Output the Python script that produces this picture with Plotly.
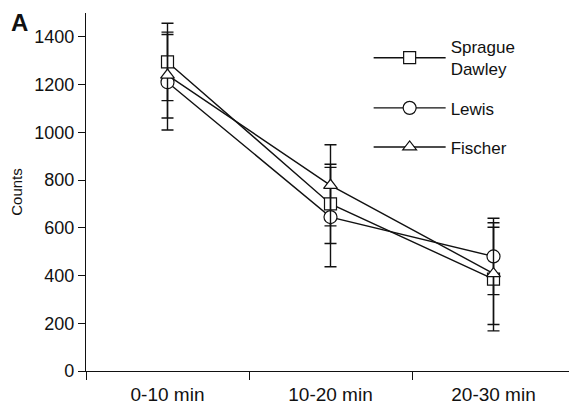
import plotly.graph_objects as go

categories = ["0-10 min", "10-20 min", "20-30 min"]
series_names = ["Sprague<br>Dawley", "Lewis", "Fischer"]
sd_values = [1295, 700, 385]
sd_err = [162, 166, 217]
lewis_values = [1210, 645, 480]
lewis_err = [200, 208, 160]
fischer_values = [1240, 778, 408]
fischer_err = [180, 170, 213]
y_ticks = [0, 200, 400, 600, 800, 1000, 1200, 1400]

symbols = ["square", "circle", "triangle-up"]
sizes = [12, 13, 12]
values = [sd_values, lewis_values, fischer_values]
errs = [sd_err, lewis_err, fischer_err]

fig = go.Figure()
for i, (name, vals, err, sym, sz) in enumerate(zip(series_names, values, errs, symbols, sizes)):
    fig.add_trace(go.Scatter(
        x=categories, y=vals, name=name, mode="lines+markers",
        legendgroup=f"g{i}",
        line=dict(color="#111", width=1.4),
        marker=dict(symbol=sym, size=sz, color="white",
                    line=dict(color="#111", width=1.2)),
        error_y=dict(type="data", array=err, visible=True,
                     color="#111", thickness=1.4, width=6),
    ))

# page body has an 8px default margin, so the figure is 8px smaller
fig.update_layout(
    width=569, height=398,
    margin=dict(l=78, r=2, t=5, b=35),
    paper_bgcolor="white", plot_bgcolor="white",
    font=dict(family="Liberation Sans, Arial, sans-serif", color="#111", size=17),
    showlegend=True,
    legend=dict(x=0.578, y=0.955, xanchor="left", yanchor="top",
                bgcolor="rgba(0,0,0,0)", font=dict(size=17),
                tracegroupgap=14, itemwidth=72),
)
fig.add_annotation(text="<b>A</b>", xref="paper", yref="paper", x=-0.157, y=1.018,
                   xanchor="left", yanchor="top", showarrow=False,
                   font=dict(size=24, color="#111"))

fig.update_xaxes(
    type="category", range=[-0.5, 2.5], tickson="boundaries", automargin=False,
    showline=True, linecolor="#111", linewidth=1.4,
    ticks="outside", ticklen=8, tickcolor="#111", tickwidth=1.2,
    showgrid=False, zeroline=False, tickfont=dict(size=19),
    ticklabelstandoff=6,
)
fig.update_yaxes(
    range=[0, 1500], tickvals=y_ticks, ticktext=[str(v) for v in y_ticks],
    automargin=False,
    showline=True, linecolor="#111", linewidth=1.4,
    ticks="outside", ticklen=7, tickcolor="#111", tickwidth=1,
    showgrid=False, zeroline=False, tickfont=dict(size=18),
    title=dict(text="Counts", font=dict(size=15), standoff=12),
)

fig.write_html("out.html")
